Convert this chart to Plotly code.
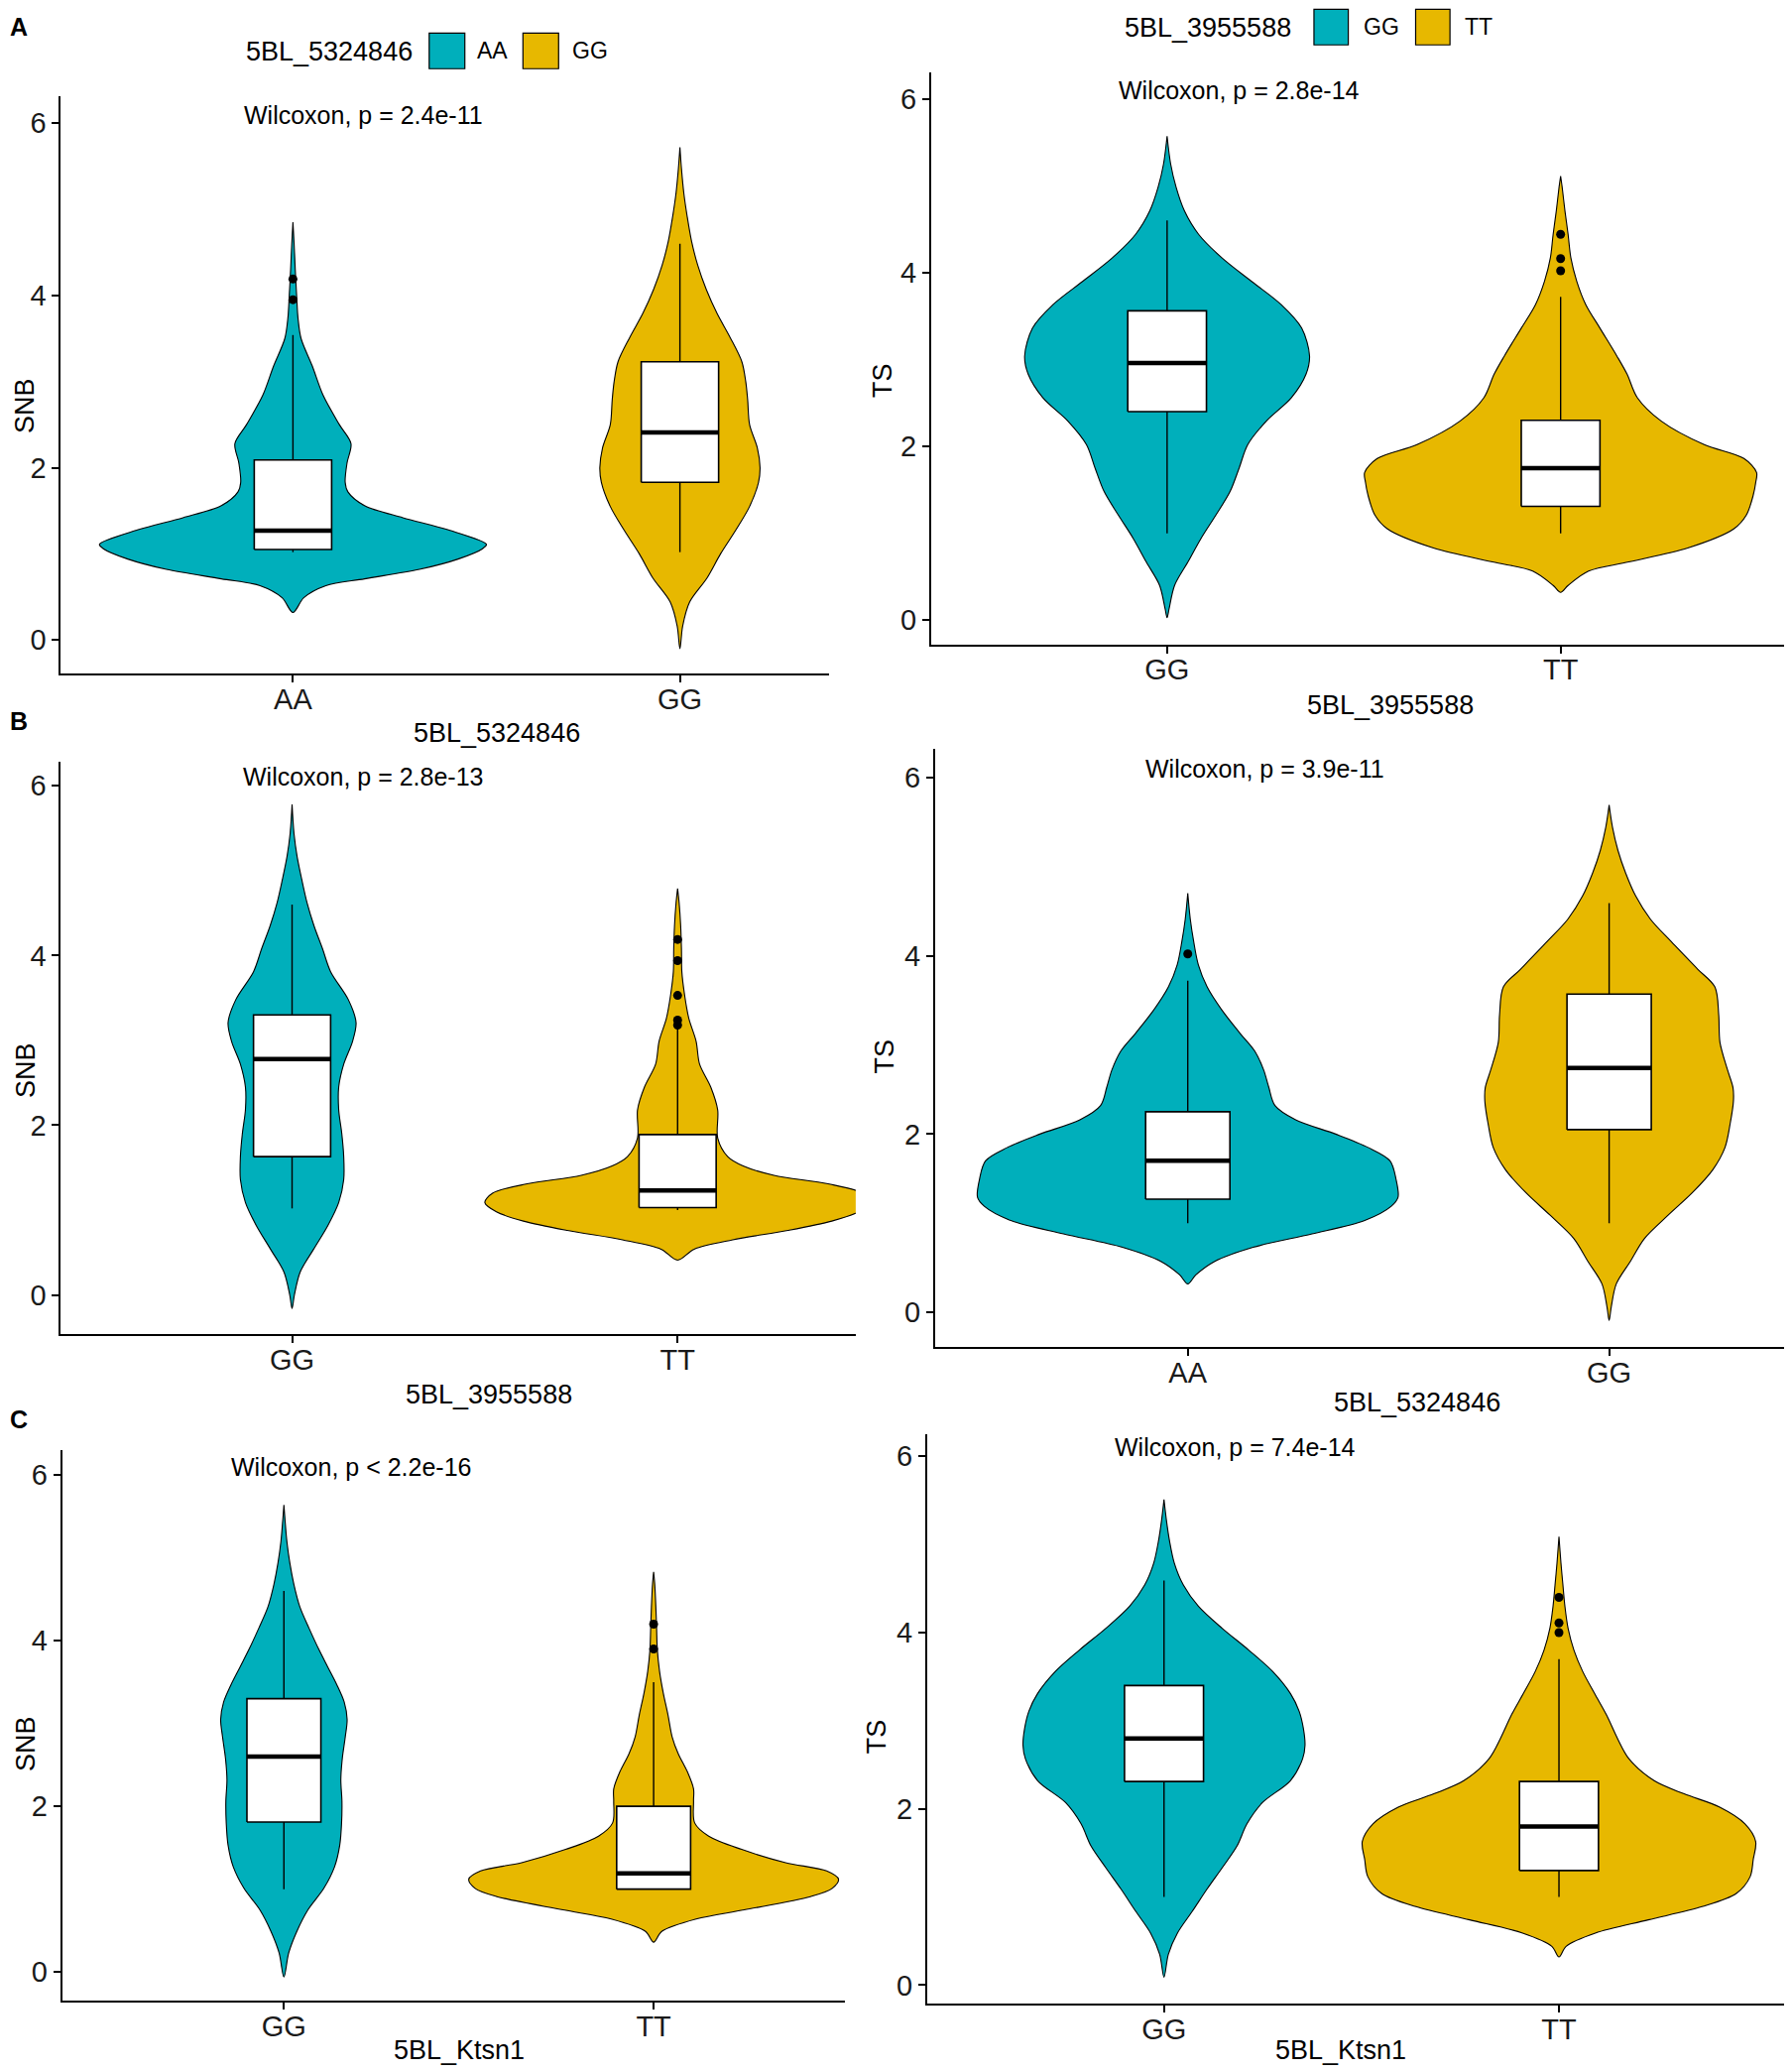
import plotly.graph_objects as go

# =============================================================================
# DATA (violin half-widths are in x-axis units)
# =============================================================================
TEAL = "#00AFBB"
GOLD = "#E7B800"
FONT = "Liberation Sans, Arial, sans-serif"

# --- Panel A left: SNB by 5BL_5324846 ---
A1_groups = ["AA", "GG"]
A1_q1 = [1.05, 1.83]
A1_med = [1.27, 2.41]
A1_q3 = [2.09, 3.23]
A1_lo = [1.02, 1.02]
A1_hi = [3.54, 4.60]
A1_out_grp = [1, 1]
A1_out_y = [4.19, 3.95]
A1_v1_y = [0.32, 0.49, 0.63, 0.71, 0.82, 0.94, 1.06, 1.11, 1.28, 1.42, 1.56, 1.72, 1.83, 2.06,
           2.28, 2.50, 2.84, 3.18, 3.50, 3.74, 3.96, 4.30, 4.60, 4.85]
A1_v1_w = [0, 0.028, 0.085, 0.185, 0.327, 0.427, 0.49, 0.50, 0.40, 0.284, 0.185, 0.142, 0.135, 0.14,
           0.15, 0.12, 0.078, 0.05, 0.021, 0.013, 0.01, 0.006, 0.003, 0]
A1_v2_y = [-0.10, 0.16, 0.44, 0.72, 1.00, 1.28, 1.55, 1.83, 2.00, 2.23, 2.50, 2.79, 3.00, 3.23,
           3.51, 3.79, 4.07, 4.35, 4.63, 4.91, 5.19, 5.47, 5.72]
A1_v2_w = [0, 0.007, 0.025, 0.07, 0.105, 0.145, 0.18, 0.203, 0.207, 0.20, 0.18, 0.175, 0.17, 0.16,
           0.13, 0.096, 0.068, 0.046, 0.03, 0.019, 0.01, 0.004, 0]

# --- Panel A right: TS by 5BL_3955588 ---
A2_groups = ["GG", "TT"]
A2_q1 = [2.40, 1.31]
A2_med = [2.96, 1.75]
A2_q3 = [3.56, 2.30]
A2_lo = [1.00, 1.00]
A2_hi = [4.60, 3.72]
A2_out_grp = [2, 2, 2]
A2_out_y = [4.44, 4.16, 4.02]
A2_v1_y = [0.03, 0.13, 0.40, 0.67, 0.94, 1.21, 1.48, 1.75, 2.02, 2.29, 2.56, 2.83, 3.04, 3.36,
           3.63, 3.90, 4.17, 4.44, 4.71, 4.98, 5.25, 5.57]
A2_v1_w = [0, 0.005, 0.019, 0.053, 0.086, 0.124, 0.16, 0.183, 0.205, 0.252, 0.316, 0.353, 0.362, 0.342,
           0.29, 0.214, 0.139, 0.08, 0.044, 0.023, 0.009, 0]
A2_v2_y = [0.32, 0.40, 0.565, 0.67, 0.83, 1.05, 1.21, 1.43, 1.59, 1.70, 1.86, 2.02, 2.29, 2.56,
           2.83, 3.04, 3.36, 3.63, 3.90, 4.17, 4.44, 4.71, 4.98, 5.11]
A2_v2_w = [0, 0.019, 0.071, 0.173, 0.323, 0.44, 0.472, 0.489, 0.496, 0.498, 0.466, 0.365, 0.256, 0.195,
           0.169, 0.143, 0.10, 0.064, 0.041, 0.026, 0.019, 0.011, 0.004, 0]

# --- Panel B left: SNB by 5BL_3955588 ---
B1_groups = ["GG", "TT"]
B1_q1 = [1.63, 1.03]
B1_med = [2.78, 1.23]
B1_q3 = [3.30, 1.89]
B1_lo = [1.02, 1.00]
B1_hi = [4.60, 3.16]
B1_out_grp = [2, 2, 2, 2, 2]
B1_out_y = [4.19, 3.94, 3.53, 3.24, 3.18]
B1_v1_y = [-0.16, 0.00, 0.27, 0.54, 0.82, 1.09, 1.36, 1.63, 1.90, 2.18, 2.45, 2.72, 2.99, 3.21,
           3.48, 3.81, 4.08, 4.35, 4.62, 4.90, 5.17, 5.44, 5.78]
B1_v1_w = [0, 0.006, 0.021, 0.056, 0.093, 0.121, 0.134, 0.134, 0.129, 0.121, 0.121, 0.134, 0.157, 0.166,
           0.146, 0.10, 0.079, 0.057, 0.039, 0.025, 0.013, 0.005, 0]
B1_v2_y = [0.41, 0.54, 0.65, 0.76, 0.87, 0.98, 1.09, 1.20, 1.31, 1.41, 1.52, 1.63, 1.85, 2.18,
           2.45, 2.72, 2.99, 3.26, 3.54, 3.81, 4.08, 4.35, 4.62, 4.79]
B1_v2_w = [0, 0.043, 0.143, 0.286, 0.40, 0.47, 0.50, 0.48, 0.39, 0.25, 0.17, 0.13, 0.104, 0.104,
           0.086, 0.057, 0.048, 0.029, 0.018, 0.011, 0.01, 0.008, 0.004, 0]

# --- Panel B right: TS by 5BL_5324846 ---
B2_groups = ["AA", "GG"]
B2_q1 = [1.27, 2.05]
B2_med = [1.70, 2.74]
B2_q3 = [2.25, 3.57]
B2_lo = [1.00, 1.00]
B2_hi = [3.72, 4.59]
B2_out_grp = [1]
B2_out_y = [4.02]
B2_v1_y = [0.32, 0.42, 0.57, 0.73, 0.88, 1.03, 1.19, 1.29, 1.50, 1.70, 1.85, 2.00, 2.16, 2.32,
           2.53, 2.72, 2.93, 3.13, 3.39, 3.65, 3.90, 4.16, 4.41, 4.70]
B2_v1_w = [0, 0.019, 0.063, 0.155, 0.295, 0.42, 0.483, 0.499, 0.494, 0.48, 0.428, 0.351, 0.256, 0.207,
           0.192, 0.18, 0.159, 0.124, 0.081, 0.046, 0.025, 0.014, 0.006, 0]
B2_v2_y = [-0.09, 0.06, 0.32, 0.57, 0.83, 1.09, 1.34, 1.60, 1.85, 2.11, 2.37, 2.52, 2.72, 3.03,
           3.34, 3.65, 3.85, 4.16, 4.41, 4.67, 4.93, 5.18, 5.44, 5.69]
B2_v2_w = [0, 0.005, 0.017, 0.05, 0.084, 0.14, 0.197, 0.246, 0.275, 0.287, 0.295, 0.294, 0.281, 0.263,
           0.26, 0.251, 0.21, 0.147, 0.098, 0.063, 0.039, 0.021, 0.008, 0]

# --- Panel C left: SNB by 5BL_Ktsn1 ---
C1_groups = ["GG", "TT"]
C1_q1 = [1.81, 1.00]
C1_med = [2.60, 1.19]
C1_q3 = [3.30, 2.00]
C1_lo = [1.00, 1.00]
C1_hi = [4.60, 3.50]
C1_out_grp = [2, 2]
C1_out_y = [4.20, 3.90]
C1_v1_y = [-0.06, 0.23, 0.49, 0.75, 1.01, 1.27, 1.53, 1.80, 2.06, 2.32, 2.58, 2.84, 3.05, 3.26,
           3.47, 3.68, 3.89, 4.15, 4.41, 4.68, 4.94, 5.20, 5.46, 5.64]
C1_v1_w = [0, 0.013, 0.035, 0.065, 0.108, 0.137, 0.151, 0.156, 0.157, 0.154, 0.158, 0.166, 0.171, 0.163,
           0.143, 0.119, 0.095, 0.068, 0.043, 0.027, 0.016, 0.008, 0.003, 0]
C1_v2_y = [0.36, 0.49, 0.64, 0.75, 0.91, 1.01, 1.12, 1.22, 1.32, 1.48, 1.64, 1.80, 2.06, 2.21,
           2.42, 2.63, 2.84, 3.10, 3.37, 3.63, 3.89, 4.15, 4.41, 4.68, 4.83]
C1_v2_w = [0, 0.022, 0.115, 0.245, 0.424, 0.483, 0.50, 0.468, 0.357, 0.238, 0.149, 0.111, 0.108, 0.108,
           0.091, 0.067, 0.05, 0.039, 0.026, 0.016, 0.01, 0.008, 0.006, 0.003, 0]

# --- Panel C right: TS by 5BL_Ktsn1 ---
C2_groups = ["GG", "TT"]
C2_q1 = [2.31, 1.30]
C2_med = [2.80, 1.80]
C2_q3 = [3.40, 2.31]
C2_lo = [1.00, 1.00]
C2_hi = [4.59, 3.70]
C2_out_grp = [2, 2, 2]
C2_out_y = [4.40, 4.11, 4.00]
C2_v1_y = [0.09, 0.35, 0.59, 0.84, 1.09, 1.33, 1.58, 1.83, 2.07, 2.32, 2.57, 2.72, 2.91, 3.11,
           3.31, 3.56, 3.80, 4.05, 4.30, 4.54, 4.79, 5.04, 5.28, 5.51]
C2_v1_w = [0, 0.011, 0.034, 0.072, 0.109, 0.147, 0.185, 0.21, 0.249, 0.32, 0.351, 0.357, 0.353, 0.342,
           0.32, 0.275, 0.215, 0.147, 0.087, 0.049, 0.026, 0.014, 0.006, 0]
C2_v2_y = [0.32, 0.44, 0.59, 0.74, 0.89, 1.04, 1.23, 1.43, 1.63, 1.83, 2.02, 2.17, 2.32, 2.57,
           2.81, 3.06, 3.31, 3.56, 3.80, 4.05, 4.30, 4.54, 4.79, 5.09]
C2_v2_w = [0, 0.018, 0.092, 0.226, 0.362, 0.449, 0.484, 0.492, 0.498, 0.471, 0.407, 0.317, 0.241, 0.177,
           0.147, 0.121, 0.09, 0.06, 0.038, 0.023, 0.015, 0.01, 0.005, 0]

# labels
P_TEXT = ["Wilcoxon, p = 2.4e-11", "Wilcoxon, p = 2.8e-14", "Wilcoxon, p = 2.8e-13",
          "Wilcoxon, p = 3.9e-11", "Wilcoxon, p < 2.2e-16", "Wilcoxon, p = 7.4e-14"]
X_TITLES = ["5BL_5324846", "5BL_3955588", "5BL_3955588", "5BL_5324846", "5BL_Ktsn1", "5BL_Ktsn1"]
Y_TITLES = ["SNB", "TS", "SNB", "TS", "SNB", "TS"]

# =============================================================================
# LAYOUT - positions measured on a 1357x1568 copy of the reference
# the page body has an 8px margin, so the figure is shifted back by that much
# =============================================================================
REF_W, REF_H = 1357, 1568
PAGE_W, PAGE_H = 1807, 2088
BODY = 8
FIG_W, FIG_H = PAGE_W - BODY, PAGE_H - BODY
SCALE = PAGE_W / REF_W
BOX_W = 0.2


def px(x):
    return (x * SCALE - BODY) / FIG_W


def py(y):
    return 1 - (y * SCALE - BODY) / FIG_H


def clamp(v):
    return min(1.0, max(0.0, v))


def label(text, x, y, size, angle=0):
    return dict(text=text, x=px(x), y=py(y), xref="paper", yref="paper", showarrow=False,
                xanchor="center", yanchor="middle", textangle=angle, borderpad=0,
                font=dict(family=FONT, size=size, color="black"))


panels = [
    dict(groups=A1_groups, q1=A1_q1, med=A1_med, q3=A1_q3, lo=A1_lo, hi=A1_hi,
         out_grp=A1_out_grp, out_y=A1_out_y,
         violins=[(A1_v1_y, A1_v1_w), (A1_v2_y, A1_v2_w)],
         xdom=(46, 628), ydom=(73, 510), xr=(0.4, 2.386), yr=(-0.39, 6.31),
         ptxt=(275, 87), xt=(376, 555), yt=(19, 307)),
    dict(groups=A2_groups, q1=A2_q1, med=A2_med, q3=A2_q3, lo=A2_lo, hi=A2_hi,
         out_grp=A2_out_grp, out_y=A2_out_y,
         violins=[(A2_v1_y, A2_v1_w), (A2_v2_y, A2_v2_w)],
         xdom=(705, 1357), ydom=(55, 488), xr=(0.4, 2.588), yr=(-0.28, 6.30),
         ptxt=(938, 68), xt=(1053, 534), yt=(668, 288)),
    dict(groups=B1_groups, q1=B1_q1, med=B1_med, q3=B1_q3, lo=B1_lo, hi=B1_hi,
         out_grp=B1_out_grp, out_y=B1_out_y,
         violins=[(B1_v1_y, B1_v1_w), (B1_v2_y, B1_v2_w)],
         xdom=(46, 648), ydom=(577, 1010), xr=(0.4, 2.462), yr=(-0.46, 6.28),
         ptxt=(275, 588), xt=(370, 1056), yt=(19, 810)),
    dict(groups=B2_groups, q1=B2_q1, med=B2_med, q3=B2_q3, lo=B2_lo, hi=B2_hi,
         out_grp=B2_out_grp, out_y=B2_out_y,
         violins=[(B2_v1_y, B2_v1_w), (B2_v2_y, B2_v2_w)],
         xdom=(708, 1357), ydom=(567, 1020), xr=(0.4, 2.434), yr=(-0.39, 6.32),
         ptxt=(958, 582), xt=(1073, 1062), yt=(670, 800)),
    dict(groups=C1_groups, q1=C1_q1, med=C1_med, q3=C1_q3, lo=C1_lo, hi=C1_hi,
         out_grp=C1_out_grp, out_y=C1_out_y,
         violins=[(C1_v1_y, C1_v1_w), (C1_v2_y, C1_v2_w)],
         xdom=(47, 640), ydom=(1098, 1515), xr=(0.4, 2.518), yr=(-0.35, 6.30),
         ptxt=(266, 1111), xt=(348, 1552), yt=(19, 1320)),
    dict(groups=C2_groups, q1=C2_q1, med=C2_med, q3=C2_q3, lo=C2_lo, hi=C2_hi,
         out_grp=C2_out_grp, out_y=C2_out_y,
         violins=[(C2_v1_y, C2_v1_w), (C2_v2_y, C2_v2_w)],
         xdom=(702, 1357), ydom=(1086, 1517), xr=(0.4, 2.59), yr=(-0.21, 6.25),
         ptxt=(935, 1096), xt=(1015, 1552), yt=(664, 1315)),
]

fig = go.Figure()
annotations = []
shapes = []
layout_axes = {}

for i, p in enumerate(panels):
    n = "" if i == 0 else str(i + 1)
    xa, ya = "x" + n, "y" + n

    # violins
    for pos, (vy, vw), col in zip([1, 2], p["violins"], [TEAL, GOLD]):
        xs = [pos + w for w in vw] + [pos - w for w in reversed(vw)]
        ys = list(vy) + list(reversed(vy))
        fig.add_trace(go.Scatter(x=xs, y=ys, mode="lines", fill="toself", fillcolor=col,
                                 line=dict(color="black", width=1.1, shape="spline", smoothing=0.9),
                                 hoverinfo="skip", xaxis=xa, yaxis=ya))

    # boxplots (drawn as scatter so they sit on top of the violins)
    for k, pos in enumerate([1, 2]):
        x0, x1 = pos - BOX_W / 2, pos + BOX_W / 2
        for seg in ([p["lo"][k], p["q1"][k]], [p["q3"][k], p["hi"][k]]):
            fig.add_trace(go.Scatter(x=[pos, pos], y=seg, mode="lines",
                                     line=dict(color="black", width=1.4),
                                     hoverinfo="skip", xaxis=xa, yaxis=ya))
        fig.add_trace(go.Scatter(x=[x0, x1, x1, x0, x0],
                                 y=[p["q1"][k], p["q1"][k], p["q3"][k], p["q3"][k], p["q1"][k]],
                                 mode="lines", fill="toself", fillcolor="white",
                                 line=dict(color="black", width=1.6),
                                 hoverinfo="skip", xaxis=xa, yaxis=ya))
        fig.add_trace(go.Scatter(x=[x0, x1], y=[p["med"][k]] * 2,
                                 mode="lines", line=dict(color="black", width=4.5),
                                 hoverinfo="skip", xaxis=xa, yaxis=ya))

    # outliers
    fig.add_trace(go.Scatter(x=p["out_grp"], y=p["out_y"], mode="markers",
                             marker=dict(color="black", size=9), xaxis=xa, yaxis=ya))

    axis_style = dict(showline=True, linecolor="black", linewidth=1.6, ticks="outside",
                      ticklen=7, tickwidth=1.6, tickcolor="black", showgrid=False, zeroline=False,
                      tickfont=dict(family=FONT, size=29, color="#1a1a1a"), automargin=False,
                      fixedrange=True)
    layout_axes["xaxis" + n] = dict(axis_style,
                                    domain=[clamp(px(p["xdom"][0])), clamp(px(p["xdom"][1]))],
                                    range=list(p["xr"]), tickvals=[1, 2], ticktext=p["groups"],
                                    anchor=ya, ticklabelstandoff=-8)
    layout_axes["yaxis" + n] = dict(axis_style,
                                    domain=[clamp(py(p["ydom"][1])), clamp(py(p["ydom"][0]))],
                                    range=list(p["yr"]), tickvals=[0, 2, 4, 6], anchor=xa)

    annotations.append(label(P_TEXT[i], p["ptxt"][0], p["ptxt"][1], 25))
    annotations.append(label(X_TITLES[i], p["xt"][0], p["xt"][1], 27))
    annotations.append(label(Y_TITLES[i], p["yt"][0], p["yt"][1], 27, angle=-90))

# panel letters
for letter, (lx, ly) in zip(["A", "B", "C"], [(14, 20), (14, 546), (14, 1075)]):
    annotations.append(label("<b>" + letter + "</b>", lx, ly, 25))

# hand-drawn legends (one per top panel)
legends = [
    dict(title="5BL_5324846", tpos=(249, 39), keys=[(325, 352), (396, 423)], ky=(25, 52),
         labels=["AA", "GG"], lpos=[373, 447]),
    dict(title="5BL_3955588", tpos=(915, 21), keys=[(995, 1021), (1072, 1098)], ky=(7, 34),
         labels=["GG", "TT"], lpos=[1046, 1120]),
]
for lg in legends:
    annotations.append(label(lg["title"], lg["tpos"][0], lg["tpos"][1], 27))
    for (k0, k1), col, lab, lx in zip(lg["keys"], [TEAL, GOLD], lg["labels"], lg["lpos"]):
        shapes.append(dict(type="rect", xref="paper", yref="paper", x0=px(k0), x1=px(k1),
                           y0=py(lg["ky"][1]), y1=py(lg["ky"][0]), fillcolor=col,
                           line=dict(color="black", width=1.2)))
        annotations.append(label(lab, lx, (lg["ky"][0] + lg["ky"][1]) / 2, 23))

fig.update_layout(
    width=FIG_W, height=FIG_H,
    margin=dict(l=0, r=0, t=0, b=0),
    paper_bgcolor="white", plot_bgcolor="white",
    showlegend=False,
    annotations=annotations,
    shapes=shapes,
    **layout_axes,
)

fig.write_html("out.html")
